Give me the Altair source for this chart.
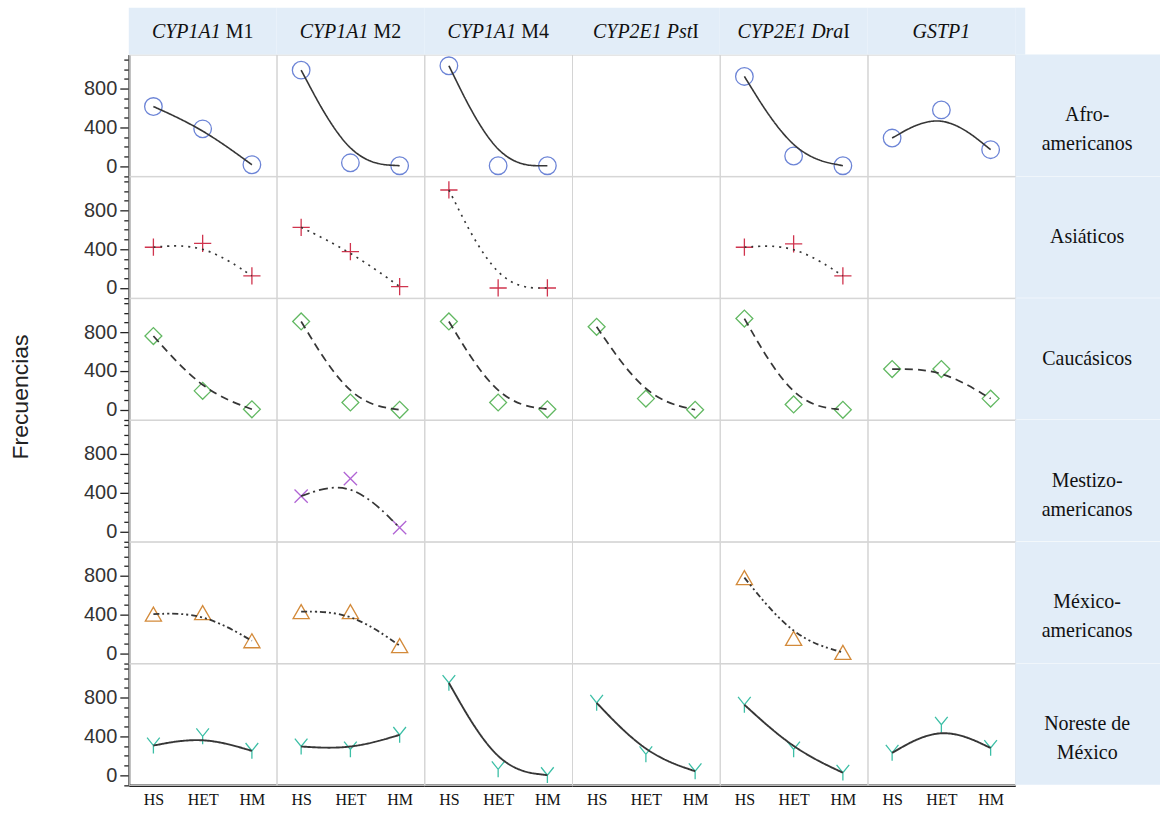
import altair as alt
import pandas as pd

# Populations (facet rows), polymorphisms (facet columns) and genotypes (x axis)
pops = ["Afro-americanos", "Asiáticos", "Caucásicos",
        "Mestizo-americanos", "México-americanos", "Noreste de México"]
pop_labels = ["Afro-\namericanos", "Asiáticos", "Caucásicos",
              "Mestizo-\namericanos", "México-\namericanos", "Noreste de\nMéxico"]
genes = ["CYP1A1 M1", "CYP1A1 M2", "CYP1A1 M4", "CYP2E1 PstI", "CYP2E1 DraI", "GSTP1"]
gene_italic = ["CYP1A1", "CYP1A1", "CYP1A1", "CYP2E1 Pst", "CYP2E1 Dra", "GSTP1"]
gene_roman = ["M1", "M2", "M4", "I", "I", ""]
genos = ["HS", "HET", "HM"]

# Genotype frequencies (HS, HET, HM) per polymorphism; None = not studied
afro = [[615, 385, 15], [990, 35, 5], [1035, 5, 5], None, [925, 105, 5], [290, 580, 170]]
asia = [[420, 460, 125], [625, 375, 15], [1010, 0, 0], None, [420, 455, 125], None]
cauc = [[760, 195, 5], [910, 75, 0], [910, 75, 5], [855, 115, 0], [940, 55, 0], [420, 420, 115]]
mest = [None, [365, 545, 40], None, None, None, None]
mexam = [[405, 420, 130], [430, 430, 80], None, None, [780, 155, 10], None]
nore = [[305, 400, 250], [295, 265, 415], [950, 60, 0], [745, 215, 40], [725, 265, 25], [230, 520, 280]]
series = [afro, asia, cauc, mest, mexam, nore]

# Styling per population
colors = ["#6c84d6", "#d0344e", "#62b862", "#b063d4", "#d38a3a", "#3cbfa6"]
shapes = ["circle", "M-1,0L1,0M0,-1L0,1", "diamond",
          "M-0.8,-0.8L0.8,0.8M-0.8,0.8L0.8,-0.8", "triangle-up",
          "M-0.8,-1L0,0L0.8,-1M0,0L0,1"]
sizes = [310, 250, 250, 210, 250, 230]
dashes = [[1, 0], [2, 5], [8, 5], [9, 4, 2, 4], [6, 3, 2, 3, 2, 3], [1, 0]]
widths = [1.6, 1.9, 1.9, 1.9, 1.9, 1.6]

W, H = 148, 121.5
SERIF, SANS = "Liberation Serif", "Liberation Sans"
BAND = "#e2edf8"
HEAD_FS = 20

# Times glyph widths (1/1000 em) to split the italic / roman parts of headers
TIMES_I = {"C": 667, "Y": 556, "P": 611, "1": 500, "A": 611, "2": 500, "E": 611,
           " ": 250, "s": 389, "t": 278, "D": 722, "r": 389, "a": 500,
           "G": 722, "S": 500, "T": 556}
TIMES_R = {"M": 889, "1": 500, "2": 500, "4": 500, "I": 333, " ": 250}


def text_width(s, table):
    return sum(table[c] for c in s) * HEAD_FS / 1000


head_pos = []
for it, ro, g in zip(gene_italic, gene_roman, genes):
    wi, wr = text_width(it, TIMES_I), text_width(ro, TIMES_R)
    gap = 0.25 * HEAD_FS if (ro and " " in g[len(it):len(it) + 1]) else 0
    left = W / 2 - (wi + gap + wr) / 2
    head_pos.append((left + wi, left + wi + gap))

rows = []
for pop, plabel, ser in zip(pops, pop_labels, series):
    for gi, (gene, vals) in enumerate(zip(genes, ser)):
        for k, geno in enumerate(genos):
            rows.append({
                "pop": pop, "plabel": plabel, "gene": gene, "geno": geno, "k": k,
                "freq": None if vals is None else vals[k],
                "hi": gene_italic[gi], "hr": gene_roman[gi],
                "hxi": head_pos[gi][0], "hxr": head_pos[gi][1],
            })
df = pd.DataFrame(rows)

x_enc = alt.X("geno:N", sort=genos, scale=alt.Scale(type="point", padding=0.5),
              axis=alt.Axis(title=None, ticks=False, labelAngle=0, labelFont=SERIF,
                            labelFontSize=16, labelColor="#111", labelPadding=6,
                            domainColor="#222", domainWidth=2.5))
y_enc = alt.Y("freq:Q", scale=alt.Scale(domain=[-100, 1150], nice=False, zero=False),
              axis=alt.Axis(title=None, grid=False, values=list(range(-100, 1101, 100)),
                            labelExpr="datum.value % 400 === 0 ? datum.label : ''",
                            tickSize={"condition": {"test": "datum.value % 400 === 0", "value": 9},
                                      "value": 5},
                            tickColor="#222", tickWidth=1.3, domainColor="#222",
                            domainWidth=2, labelFont=SANS, labelFontSize=20,
                            labelColor="#333", labelPadding=3))

top_row = (alt.datum.pop == pops[0]) & (alt.datum.geno == "HET")
top_right = top_row & (alt.datum.gene == genes[-1])
last_col = (alt.datum.gene == genes[-1]) & (alt.datum.geno == "HET")

# Header band above the grid, slightly overhanging the last column
top_band = alt.Chart().mark_rect(color=BAND).encode(
    x=alt.value(0), x2=alt.value(W), y=alt.value(-47), y2=alt.value(0)
).transform_filter(top_row)

top_band_end = alt.Chart().mark_rect(color=BAND).encode(
    x=alt.value(W), x2=alt.value(W + 10), y=alt.value(-47), y2=alt.value(0)
).transform_filter(top_right)

# Band carrying the population names to the right of the grid
side_band = alt.Chart().mark_rect(color=BAND).encode(
    x=alt.value(W), x2=alt.value(W + 145), y=alt.value(0), y2=alt.value(H)
).transform_filter(last_col)

lines = alt.Chart().mark_line(interpolate="basis", color="#363636").encode(
    x=x_enc, y=y_enc, order="k:Q",
    strokeDash=alt.StrokeDash("pop:N", scale=alt.Scale(domain=pops, range=dashes), legend=None),
    strokeWidth=alt.StrokeWidth("pop:N", scale=alt.Scale(domain=pops, range=widths), legend=None),
)

points = alt.Chart().mark_point(filled=False, strokeWidth=1.3, opacity=1).encode(
    x=x_enc, y=y_enc,
    shape=alt.Shape("pop:N", scale=alt.Scale(domain=pops, range=shapes), legend=None),
    color=alt.Color("pop:N", scale=alt.Scale(domain=pops, range=colors), legend=None),
    size=alt.Size("pop:N", scale=alt.Scale(domain=pops, range=sizes), legend=None),
)

head_it = alt.Chart().mark_text(font=SERIF, fontSize=HEAD_FS, fontStyle="italic",
                                align="right", baseline="middle", color="#111").encode(
    x=alt.X("hxi:Q", scale=None, axis=None), y=alt.value(-23), text="hi:N"
).transform_filter(top_row)

head_ro = alt.Chart().mark_text(font=SERIF, fontSize=HEAD_FS, align="left",
                                baseline="middle", color="#111").encode(
    x=alt.X("hxr:Q", scale=None, axis=None), y=alt.value(-23), text="hr:N"
).transform_filter(top_row)

row_text = alt.Chart().mark_text(font=SERIF, fontSize=20, lineBreak="\n", lineHeight=29,
                                 align="center", baseline="middle", color="#111").encode(
    x=alt.value(W + 72), y=alt.value(H / 2), text="plabel:N"
).transform_filter(last_col)

cell = alt.layer(top_band, top_band_end, side_band, points, lines,
                 head_it, head_ro, row_text).properties(width=W, height=H)

chart = cell.facet(
    data=df,
    row=alt.Row("pop:N", sort=pops, title="Frecuencias",
                header=alt.Header(labels=False, titleFont=SANS, titleFontSize=23,
                                  titleFontWeight="normal", titleColor="#222",
                                  titlePadding=40)),
    column=alt.Column("gene:N", sort=genes, title=None, header=alt.Header(labels=False)),
    spacing=0,
    bounds="flush",
).configure_view(
    stroke="#d4d4d4", strokeWidth=1
).properties(
    padding={"left": 9, "top": 6, "right": 0, "bottom": 5},
    background="white",
)

chart.save("out.html", embed_options={"renderer": "svg", "actions": False})
